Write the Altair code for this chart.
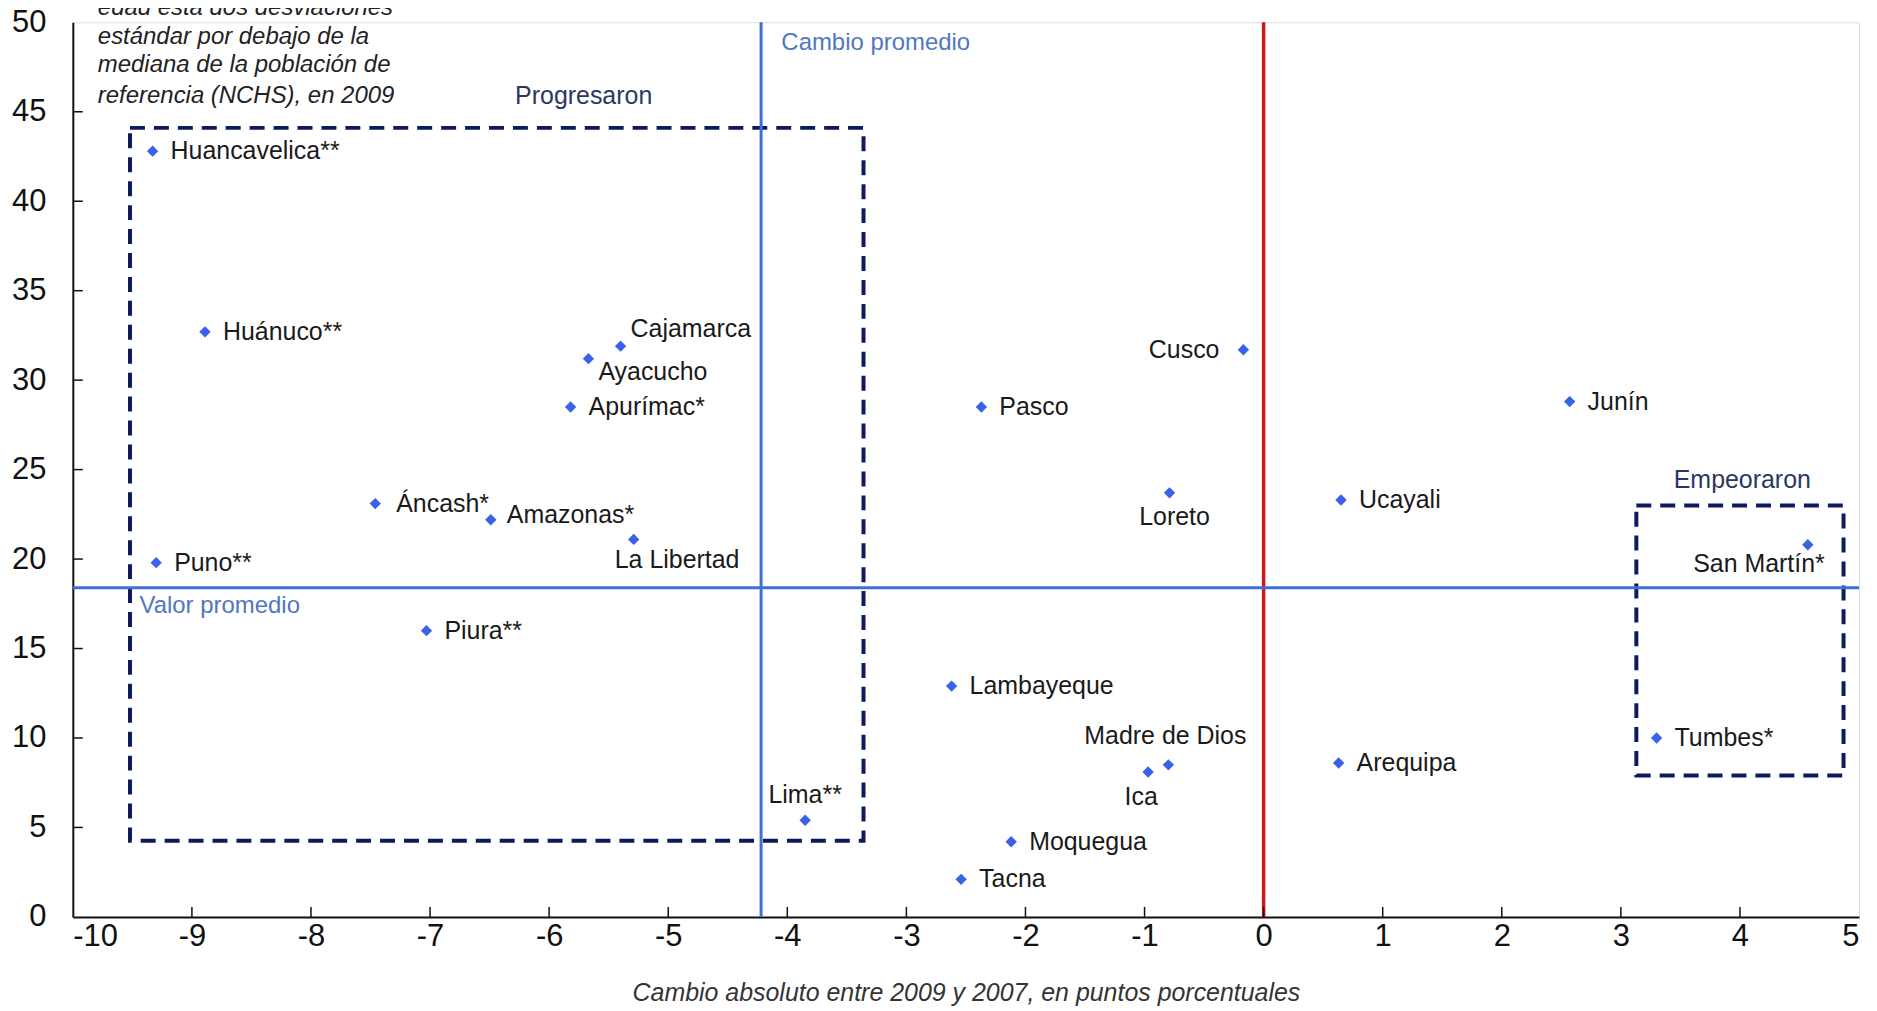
import altair as alt
import pandas as pd

# ---- data ----
regions = ["Huancavelica**", "Huánuco**", "Cajamarca", "Ayacucho", "Apurímac*", "Áncash*",
           "Amazonas*", "La Libertad", "Puno**", "Piura**", "Lima**", "Pasco", "Cusco",
           "Loreto", "Lambayeque", "Madre de Dios", "Ica", "Moquegua", "Tacna", "Junín",
           "Ucayali", "Arequipa", "San Martín*", "Tumbes*"]
change = [-9.33, -8.89, -5.40, -5.67, -5.82, -7.46, -6.49, -5.29, -9.30, -7.03, -3.85, -2.37,
          -0.17, -0.79, -2.62, -0.80, -0.97, -2.12, -2.54, 2.57, 0.65, 0.63, 4.57, 3.30]
level = [42.8, 32.7, 31.9, 31.2, 28.5, 23.1, 22.2, 21.1, 19.8, 16.0, 5.4, 28.5,
         31.7, 23.7, 12.9, 8.5, 8.1, 4.2, 2.1, 28.8, 23.3, 8.6, 20.8, 10.0]

mean_change = -4.22
mean_level = 18.4

box_names = ["Progresaron", "Empeoraron"]
box_x1 = [-9.52, 3.13]
box_x2 = [-3.36, 4.87]
box_y1 = [4.26, 7.9]
box_y2 = [44.1, 23.0]

note_lines = ["edad está dos desviaciones", "estándar por debajo de la",
              "mediana de la población de", "referencia (NCHS), en 2009"]
note_y = [50.8, 49.2, 47.6, 45.9]

x_ticks = list(range(-10, 6))
y_ticks = list(range(0, 51, 5))

W, H = 1791, 897
FONT = "Liberation Sans"

pts = pd.DataFrame({"region": regions, "x": change, "y": level})

xs = alt.Scale(domain=[-10, 5], nice=False, zero=False)
ys = alt.Scale(domain=[0, 50], nice=False, zero=False)
X = alt.X("x:Q", scale=xs,
          axis=alt.Axis(values=x_ticks, labelExpr="'' + datum.value",
                        title="Cambio absoluto entre 2009 y 2007, en puntos porcentuales",
                        grid=False, ticks=False, labelPadding=5, labelFontSize=31,
                        labelFont=FONT, labelColor="#111", domainColor="#111", domainWidth=2,
                        titleFont=FONT, titleFontStyle="italic", titleFontWeight="normal",
                        titleFontSize=25, titleColor="#333", titlePadding=29))
Y = alt.Y("y:Q", scale=ys,
          axis=alt.Axis(values=y_ticks, labelExpr="'' + datum.value", title=None, grid=False,
                        ticks=False, labelPadding=27,
                        labelFontSize=31, labelFont=FONT, labelColor="#111",
                        domainColor="#111", domainWidth=2))

base = alt.Chart(pts)

# reference lines
vline = alt.Chart(pd.DataFrame({"x": [mean_change]})).mark_rule(color="#3f6fd6", strokeWidth=3).encode(
    x=alt.X("x:Q", scale=xs))
zline = alt.Chart(pd.DataFrame({"x": [0]})).mark_rule(color="#d01818", strokeWidth=3.5).encode(
    x=alt.X("x:Q", scale=xs))
hline = alt.Chart(pd.DataFrame({"y": [mean_level]})).mark_rule(color="#3f6fd6", strokeWidth=3).encode(
    y=alt.Y("y:Q", scale=ys))

# inside ticks
xt = alt.Chart(pd.DataFrame({"x": x_ticks[1:-1]})).mark_rule(color="#111", strokeWidth=1.5).encode(
    x=alt.X("x:Q", scale=xs), y=alt.value(H), y2=alt.value(H - 10))
yt = alt.Chart(pd.DataFrame({"y": y_ticks[1:-1]})).mark_rule(color="#111", strokeWidth=1.5).encode(
    y=alt.Y("y:Q", scale=ys), x=alt.value(0), x2=alt.value(10))

# dashed boxes
boxes = alt.Chart(pd.DataFrame({"name": box_names, "x1": box_x1, "x2": box_x2,
                                "y1": box_y1, "y2": box_y2})).mark_rect(
    fillOpacity=0, stroke="#0c1a5e", strokeWidth=4, strokeDash=[15, 9]).encode(
    x=alt.X("x1:Q", scale=xs), x2="x2:Q", y=alt.Y("y1:Q", scale=ys), y2="y2:Q")

points = base.mark_point(shape="diamond", filled=True, size=130, color="#3a62e8", opacity=1).encode(x=X, y=Y)

LBL = 25
# labels: default placement right of the point; others with their own offsets
special = {
    "Cajamarca": dict(align="left", dx=10, dy=-17),
    "Ayacucho": dict(align="left", dx=10, dy=13),
    "La Libertad": dict(align="left", dx=-19, dy=21),
    "Lima**": dict(align="center", dx=0, dy=-25),
    "Cusco": dict(align="right", dx=-24, dy=0),
    "Loreto": dict(align="center", dx=5, dy=24),
    "Madre de Dios": dict(align="center", dx=-3, dy=-29),
    "Ica": dict(align="center", dx=-7, dy=25),
    "San Martín*": dict(align="right", dx=17, dy=19),
    "Amazonas*": dict(align="left", dx=16, dy=-5),
    "Áncash*": dict(align="left", dx=21, dy=0),
}
label_layers = []
default = base.transform_filter(
    alt.FieldOneOfPredicate(field="region", oneOf=[r for r in regions if r not in special])
).mark_text(align="left", baseline="middle", dx=18, font=FONT, fontSize=LBL, color="#1a1a1a").encode(
    x=alt.X("x:Q", scale=xs), y=alt.Y("y:Q", scale=ys), text="region:N")
label_layers.append(default)
for name, opts in special.items():
    label_layers.append(
        base.transform_filter(alt.datum.region == name).mark_text(
            baseline="middle", font=FONT, fontSize=LBL, color="#1a1a1a", **opts).encode(
            x=alt.X("x:Q", scale=xs), y=alt.Y("y:Q", scale=ys), text="region:N"))

# annotations
ann = alt.Chart(pd.DataFrame({
    "t": ["Progresaron", "Empeoraron"], "x": [-5.71, 4.02], "y": [45.87, 24.43]})).mark_text(
    align="center", baseline="middle", font=FONT, fontSize=25, color="#2b3763").encode(
    x=alt.X("x:Q", scale=xs), y=alt.Y("y:Q", scale=ys), text="t:N")
ann2 = alt.Chart(pd.DataFrame({
    "t": ["Cambio promedio", "Valor promedio"], "x": [-4.05, -9.44], "y": [48.87, 17.38]})).mark_text(
    align="left", baseline="middle", font=FONT, fontSize=24, color="#5277c0").encode(
    x=alt.X("x:Q", scale=xs), y=alt.Y("y:Q", scale=ys), text="t:N")
note = alt.Chart(pd.DataFrame({"t": note_lines, "y": note_y, "x": [-9.79] * 4})).mark_text(
    align="left", baseline="middle", font=FONT, fontSize=24, fontStyle="italic", color="#222",
    clip=False).encode(x=alt.X("x:Q", scale=xs), y=alt.Y("y:Q", scale=ys), text="t:N")

chart = alt.layer(boxes, vline, zline, hline, xt, yt, points, *label_layers, ann, ann2, note).properties(
    width=W, height=H,
    autosize=alt.AutoSizeParams(type="none"),
    padding={"left": 65, "top": 13, "right": 10, "bottom": 92},
).configure_view(stroke="#222", strokeWidth=2).configure(background="white")

chart.save("out.html", embed_options={"renderer": "svg", "actions": False})
